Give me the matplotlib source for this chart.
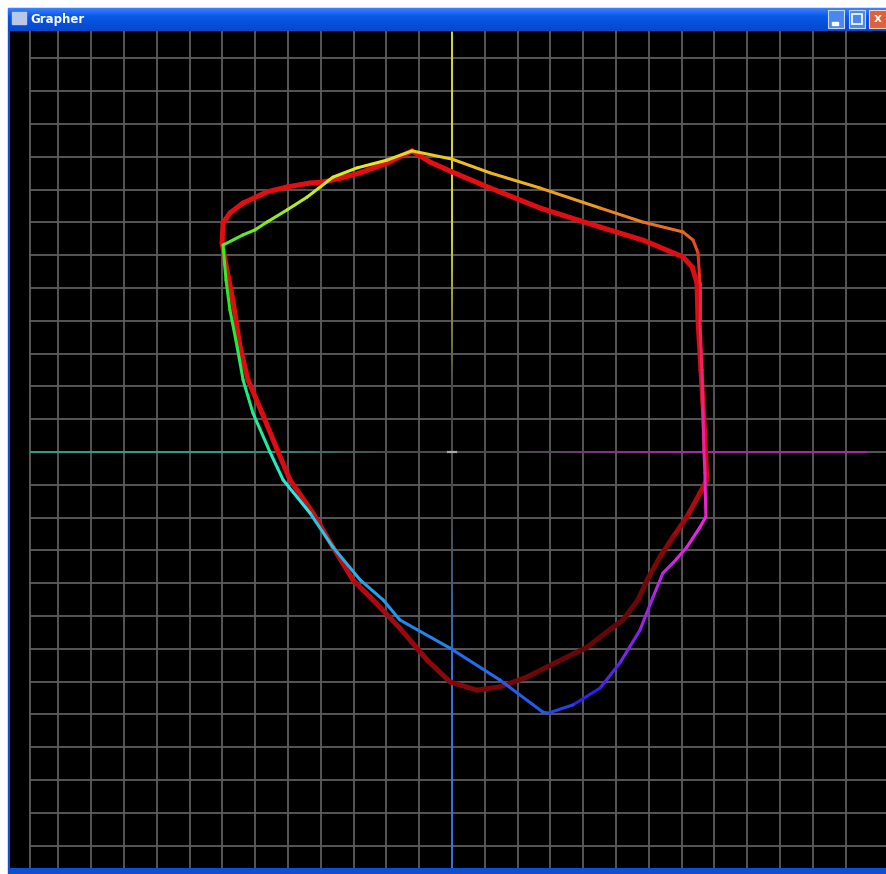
import numpy as np
import matplotlib
matplotlib.use("Agg")
import matplotlib.pyplot as plt
from matplotlib.collections import LineCollection
from matplotlib.colors import hsv_to_rgb, to_rgb
from matplotlib.patches import Rectangle

# curva de colores (arco iris), en unidades de la grilla, sentido horario desde el pico
arco_x = [-1.22, 0.00, 1.16, 2.68, 4.51, 5.82, 7.04, 7.35, 7.50, 7.56, 7.56, 7.62, 7.65,
          7.68, 7.71, 7.74, 7.56, 7.16, 6.74, 6.43, 6.13, 5.73, 5.12, 4.51, 3.69, 2.93,
          2.77, 1.46, -0.06, -1.59, -2.10, -2.80, -3.63, -4.33, -5.15, -5.55, -6.07,
          -6.37, -6.55, -6.77, -6.89, -6.98, -6.37, -6.01, -5.64, -5.03, -4.42, -3.63,
          -2.90, -1.98]
arco_y = [9.18, 8.93, 8.51, 8.05, 7.44, 7.01, 6.71, 6.46, 6.07, 5.15, 4.02, 2.50, 1.28,
          0.06, -0.64, -1.98, -2.29, -2.90, -3.38, -3.69, -4.42, -5.43, -6.43, -7.20,
          -7.71, -7.96, -7.93, -6.95, -5.98, -5.12, -4.51, -3.90, -2.90, -1.86, -0.85,
          0.00, 1.19, 2.20, 3.20, 4.33, 5.24, 6.31, 6.62, 6.77, 7.01, 7.38, 7.77, 8.38,
          8.66, 8.90]

# curva roja
rojo_x = [-1.22, -0.67, 0.00, 1.16, 2.68, 4.51, 5.82, 7.04, 7.32, 7.47, 7.50, 7.59, 7.68,
          7.71, 7.77, 7.56, 7.16, 6.74, 6.34, 5.95, 5.67, 5.21, 4.91, 4.12, 3.20, 2.29,
          1.46, 0.76, -0.06, -0.76, -1.59, -2.41, -3.02, -3.63, -4.24, -4.94, -5.30,
          -5.79, -6.22, -6.46, -6.68, -6.89, -7.01, -6.98, -6.77, -6.37, -5.64, -5.03,
          -4.33, -3.93, -3.41, -2.80, -1.98]
rojo_y = [9.18, 8.84, 8.54, 8.05, 7.44, 6.86, 6.46, 5.95, 5.64, 5.15, 4.02, 2.50, 0.98,
          0.37, -0.85, -1.25, -1.98, -2.59, -3.20, -3.90, -4.51, -5.12, -5.34, -5.95,
          -6.40, -6.86, -7.16, -7.26, -7.01, -6.34, -5.37, -4.51, -3.90, -2.90, -1.86,
          -0.85, 0.00, 1.19, 2.20, 3.20, 4.63, 5.70, 6.37, 6.98, 7.29, 7.59, 7.93, 8.08,
          8.20, 8.23, 8.35, 8.51, 8.81]

grilla = np.arange(-12, 13)

# tamaño de la ventana en pixeles
W, H = 886, 874
cx, cy, paso = 452, 452, 32.8      # centro y paso de la grilla en pixeles


def segmentos(x, y):
    x = np.append(x, x[0])
    y = np.append(y, y[0])
    pts = np.column_stack([x, y]).reshape(-1, 1, 2)
    return np.concatenate([pts[:-1], pts[1:]], axis=1)


def angulo(seg):
    m = seg.mean(axis=1)
    return np.degrees(np.arctan2(m[:, 1], m[:, 0])) % 360


fig = plt.figure(figsize=(W / 100, H / 100), dpi=100, facecolor='white')

# marco de la ventana
fondo = fig.add_axes([0, 0, 1, 1])
fondo.set_xlim(0, W)
fondo.set_ylim(H, 0)
fondo.axis('off')
fondo.add_patch(Rectangle((8, 8), W - 8, H - 8, color='#0c4fd8'))
barra = np.linspace(0, 1, 24).reshape(-1, 1)
fondo.imshow(barra, cmap=matplotlib.colors.LinearSegmentedColormap.from_list(
    'b', ['#3a80ff', '#0a5ae6', '#0550dc', '#0a48c8']), aspect='auto',
    extent=(8, W, 31, 8), zorder=1)
fondo.add_patch(Rectangle((12, 12), 14, 12, color='#b8c8e8', zorder=2))
fondo.text(30, 19.5, 'Grapher', color='white', fontsize=8.5, fontweight='bold',
           va='center', ha='left', zorder=3)
fondo.add_patch(Rectangle((828, 10), 16, 18, color='#4a88f0', ec='#c0d8ff', lw=0.8, zorder=2))
fondo.add_patch(Rectangle((832, 22), 6, 2.5, color='white', zorder=3))
fondo.add_patch(Rectangle((849, 10), 16, 18, color='#4a88f0', ec='#c0d8ff', lw=0.8, zorder=2))
fondo.add_patch(Rectangle((852, 14), 10, 10, fill=False, ec='white', lw=1.2, zorder=3))
fondo.add_patch(Rectangle((869, 10), 17, 18, color='#e0603a', ec='#ffd0b0', lw=0.8, zorder=2))
fondo.text(877.5, 19, 'x', color='white', fontsize=9, fontweight='bold',
           ha='center', va='center', zorder=3)

# area del grafico
x0, x1, y0, y1 = 10, W, 31, 868
ax = fig.add_axes([x0 / W, (H - y1) / H, (x1 - x0) / W, (y1 - y0) / H])
ax.set_facecolor('black')
ax.set_xlim((x0 - cx) / paso, (x1 - cx) / paso)
ax.set_ylim((cy - y1) / paso, (cy - y0) / paso)
ax.set_xticks([])
ax.set_yticks([])
for s in ax.spines.values():
    s.set_visible(False)

borde = (cx - 30) / paso
gris = '#5c5c5c'
for g in grilla:
    ax.axvline(g, color=gris, lw=1.3, zorder=1)
    ax.plot([-borde, ax.get_xlim()[1]], [g, g], color=gris, lw=1.3, zorder=1)
ax.axvline(-borde, color=gris, lw=1.3, zorder=1)

# ejes con degradé
centro = np.array(to_rgb('#4a4a4a'))
extremos = [((-1, 0), '#2c9c8c', borde), ((1, 0), '#a828a8', (867 - cx) / paso),
            ((0, 1), '#d8d828', (cy - 32) / paso), ((0, -1), '#3474d8', (y1 - cy) / paso)]
for (dx, dy), col, largo in extremos:
    r = np.linspace(0, largo, 80)
    pts = np.column_stack([dx * r, dy * r]).reshape(-1, 1, 2)
    segs = np.concatenate([pts[:-1], pts[1:]], axis=1)
    w = np.clip((r[:-1] - 2.0) / 4.5, 0, 1)[:, None]
    cols = centro + (np.array(to_rgb(col)) - centro) * w
    ax.add_collection(LineCollection(segs, colors=cols, lw=1.4, zorder=2))
ax.plot([-0.12, 0.12], [0, 0], color='#a8a8a8', lw=1.6, zorder=3)

# curva roja, brillo segun el angulo
seg_r = segmentos(rojo_x, rojo_y)
ang_r = angulo(seg_r)
brillo = np.interp(ang_r, [0, 90, 180, 220, 253, 276, 313, 333, 344, 360],
                   [0.84, 0.9, 0.86, 0.76, 0.62, 0.48, 0.38, 0.5, 0.64, 0.84])
cols_r = np.column_stack([brillo, brillo * 0.06, brillo * 0.09])
ax.add_collection(LineCollection(seg_r, colors=cols_r, lw=3.6, capstyle='round',
                                 joinstyle='round', zorder=4))

# curva arco iris, tono segun el angulo
seg_a = segmentos(arco_x, arco_y)
ang_a = angulo(seg_a)
tono = np.interp(ang_a, [0, 32, 43, 70, 98, 121, 138, 160, 180, 209, 260, 290, 310, 335, 360],
                 [320, 350, 380, 400, 412, 435, 470, 500, 525, 550, 570, 585, 625, 655, 680])
hsv = np.column_stack([(tono % 360) / 360, np.full_like(tono, 0.85), np.full_like(tono, 0.92)])
ax.add_collection(LineCollection(seg_a, colors=hsv_to_rgb(hsv), lw=2.2, capstyle='round',
                                 joinstyle='round', zorder=5))

fig.savefig('out.png', dpi=100, facecolor='white')
